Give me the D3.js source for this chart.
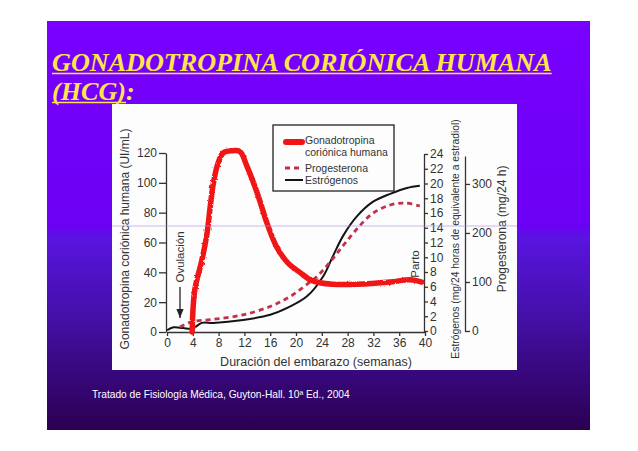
<!DOCTYPE html>
<html><head><meta charset="utf-8">
<script src="https://cdn.jsdelivr.net/npm/d3@7"></script>
<style>html,body{margin:0;padding:0;background:#fff;}svg{display:block;}</style>
</head><body>
<script>
// ---- data ----
const xTicks = [0,4,8,12,16,20,24,28,32,36,40];
const hcgTicks = [0,20,40,60,80,100,120];
const estTicks = [0,2,4,6,8,10,12,14,16,18,20,22,24];
const progTicks = [0,100,200,300];

const hcgWeeks = [3.9,4.3,5.4,6.2,6.7,7.2,7.9,8.7,10,11.3,12.4,14,15.5,17,18.8,20.6,22.2,23.7,25.7,29.5,34.6,37.7,39.5];
const hcgVals  = [0,28,48,66,84,100,113,120,121.5,121,111,93,73,57,46,40,35,33,32,32,33.5,35,33.5];

const estWeeks = [0,1,2.5,3.9,5.4,7.2,11.8,16,18.8,21.7,24.2,25.7,27.3,29.5,31.9,34.6,37.2,39.2];
const estVals  = [0.1,0.5,0.4,0.3,1.1,1.1,1.5,2.2,3.2,4.7,7.4,10.1,12.9,15.6,17.5,18.6,19.4,19.7];

const progWeeks = [2,3.9,6.7,11.8,16,18.8,21.1,23.3,25.3,27.3,29.5,31.9,34.6,36.9,39.2];
const progVals  = [8,19,23,33,50,68,89,112,141,174,209,240,257,261,255];

const titleLine1 = "GONADOTROPINA CORIÓNICA HUMANA";
const titleLine2 = "(HCG)";
const titleLine2Tail = ":";
const caption = "Tratado de Fisiología Médica, Guyton-Hall. 10ª Ed., 2004";

// ---- drawing ----
const W = 638, H = 451;
const svg = d3.select("body").append("svg").attr("width", W).attr("height", H);
const defs = svg.append("defs");
const g = defs.append("linearGradient").attr("id","bg").attr("x1",0).attr("y1",0).attr("x2",0).attr("y2",1);
[[0,"#7800ff"],[0.5,"#6c00f4"],[0.53,"#5a14e0"],[0.72,"#4410a8"],[1,"#2b0052"]].forEach(([o,c])=>g.append("stop").attr("offset",o).attr("stop-color",c));
const rough = defs.append("filter").attr("id","rough").attr("x","-5%").attr("y","-5%").attr("width","110%").attr("height","110%");
rough.append("feTurbulence").attr("type","fractalNoise").attr("baseFrequency",0.35).attr("numOctaves",2).attr("result","n");
rough.append("feDisplacementMap").attr("in","SourceGraphic").attr("in2","n").attr("scale",2.5);

svg.append("rect").attr("x",47).attr("y",21).attr("width",543).attr("height",409).attr("fill","url(#bg)");

// title
const tFont = "'Liberation Serif','DejaVu Serif',serif";
const tCol = "#ffe548";
const t1 = svg.append("text").attr("x",52).attr("y",71).attr("font-family",tFont)
  .attr("font-style","italic").attr("font-weight","bold").attr("font-size",22).attr("fill",tCol).text(titleLine1);
const L1 = t1.node().getComputedTextLength();
const tfs = 22*500/L1;
t1.attr("font-size", tfs);
svg.append("line").attr("x1",52).attr("x2",52+t1.node().getComputedTextLength()).attr("y1",73.5).attr("y2",73.5)
  .attr("stroke",tCol).attr("stroke-width",1.5);
const t2 = svg.append("text").attr("x",52).attr("y",100).attr("font-family",tFont)
  .attr("font-style","italic").attr("font-weight","bold").attr("font-size",tfs).attr("fill",tCol);
const t2a = t2.append("tspan").text(titleLine2);
t2.append("tspan").text(titleLine2Tail);
const L2 = t2a.node().getComputedTextLength();
svg.append("line").attr("x1",52).attr("x2",52+L2).attr("y1",102.5).attr("y2",102.5)
  .attr("stroke",tCol).attr("stroke-width",1.5);

// chart image
svg.append("rect").attr("x",112).attr("y",104).attr("width",405).attr("height",266).attr("fill","#fdfdfd");

const font = "'Liberation Sans',Arial,Helvetica,sans-serif";
const ink = "#333";
const x = d3.scaleLinear().domain([0,40]).range([167,425]);
const yH = d3.scaleLinear().domain([0,120]).range([332,153]);
const yE = d3.scaleLinear().domain([0,24]).range([331,154]);
const yP = d3.scaleLinear().domain([0,357]).range([331,156]);

function styleAxis(sel, fs){
  sel.selectAll("path,line").attr("stroke",ink).attr("stroke-width",1.3);
  sel.selectAll("text").attr("font-family",font).attr("font-size",fs).attr("fill",ink);
}
const ax = svg.append("g").attr("transform","translate(0,332)")
  .call(d3.axisBottom(x).tickValues(xTicks).tickSize(4).tickSizeOuter(0).tickPadding(2));
styleAxis(ax, 12);
const ayH = svg.append("g").attr("transform","translate(166,0)")
  .call(d3.axisLeft(yH).tickValues(hcgTicks).tickSize(7).tickSizeOuter(0).tickPadding(2));
styleAxis(ayH, 12);
const ayE = svg.append("g").attr("transform","translate(424,0)")
  .call(d3.axisRight(yE).tickValues(estTicks).tickSize(4).tickSizeOuter(0).tickPadding(2));
styleAxis(ayE, 12);
const ayP = svg.append("g").attr("transform","translate(465,0)")
  .call(d3.axisRight(yP).tickValues(progTicks).tickSize(5).tickSizeOuter(0).tickPadding(2));
styleAxis(ayP, 12);

// axis titles
function vtext(cx, cy, t, fs){
  svg.append("text").attr("transform",`translate(${cx},${cy}) rotate(-90)`).attr("text-anchor","middle")
    .attr("dominant-baseline","central").attr("font-family",font).attr("font-size",fs).attr("fill",ink).text(t);
}
vtext(125, 239, "Gonadotropina coriónica humana (UI/mL)", 12);
vtext(455, 239, "Estrógenos (mg/24 horas de equivalente a estradiol)", 10.3);
vtext(502, 229, "Progesterona (mg/24 h)", 12);
svg.append("text").attr("x",316).attr("y",362).attr("text-anchor","middle").attr("dominant-baseline","central")
  .attr("font-family",font).attr("font-size",12.5).attr("fill",ink).text("Duración del embarazo (semanas)");

// annotations
vtext(180, 257, "Ovulación", 11.5);
vtext(415, 264, "Parto", 11.5);
defs.append("marker").attr("id","arr").attr("viewBox","0 0 10 10").attr("refX",10).attr("refY",5)
  .attr("markerWidth",7).attr("markerHeight",7).attr("orient","auto")
  .append("path").attr("d","M0,1 L10,5 L0,9 Z").attr("fill","#222");
svg.append("line").attr("x1",180).attr("x2",180).attr("y1",287).attr("y2",318)
  .attr("stroke","#222").attr("stroke-width",1.3).attr("marker-end","url(#arr)");

// series
const mk = (ws, vs) => ws.map((w,i)=>[w,vs[i]]);
svg.append("path").datum(mk(estWeeks,estVals))
  .attr("d", d3.line().x(d=>x(d[0])).y(d=>yE(d[1])).curve(d3.curveCatmullRom))
  .attr("fill","none").attr("stroke","#141414").attr("stroke-width",2);
svg.append("path").datum(mk(progWeeks,progVals))
  .attr("d", d3.line().x(d=>x(d[0])).y(d=>yP(d[1])).curve(d3.curveCatmullRom))
  .attr("fill","none").attr("stroke","#c2304a").attr("stroke-width",2.8).attr("stroke-dasharray","5,4");
svg.append("path").datum(mk(hcgWeeks,hcgVals))
  .attr("d", d3.line().x(d=>x(d[0])).y(d=>yH(d[1])).curve(d3.curveCatmullRom))
  .attr("fill","none").attr("stroke","#f01414").attr("stroke-width",5.5)
  .attr("stroke-linejoin","round").attr("stroke-linecap","round").attr("filter","url(#rough)");

// legend
svg.append("rect").attr("x",273).attr("y",125).attr("width",121).attr("height",66)
  .attr("fill","#fdfdfd").attr("stroke","#222").attr("stroke-width",1.3);
svg.append("line").attr("x1",286).attr("x2",302).attr("y1",142).attr("y2",142)
  .attr("stroke","#f01414").attr("stroke-width",6).attr("stroke-linecap","round");
svg.append("line").attr("x1",285).attr("x2",303).attr("y1",168).attr("y2",168)
  .attr("stroke","#c2304a").attr("stroke-width",2.8).attr("stroke-dasharray","5,4");
svg.append("line").attr("x1",285).attr("x2",303).attr("y1",180).attr("y2",180)
  .attr("stroke","#141414").attr("stroke-width",2);
[["Gonadotropina",144],["coriónica humana",155.5],["Progesterona",171.5],["Estrógenos",183.5]].forEach(([t,yy])=>{
  svg.append("text").attr("x",305).attr("y",yy).attr("font-family",font).attr("font-size",10.5).attr("fill",ink).text(t);
});

// thin guide line across image
svg.append("line").attr("x1",112).attr("x2",517).attr("y1",226).attr("y2",226)
  .attr("stroke","#b48ae8").attr("stroke-width",0.8).attr("stroke-opacity",0.8);

// caption
svg.append("text").attr("x",92).attr("y",398).attr("font-family",font).attr("font-size",10.2)
  .attr("fill","#ffffff").text(caption);
</script>
</body></html>
